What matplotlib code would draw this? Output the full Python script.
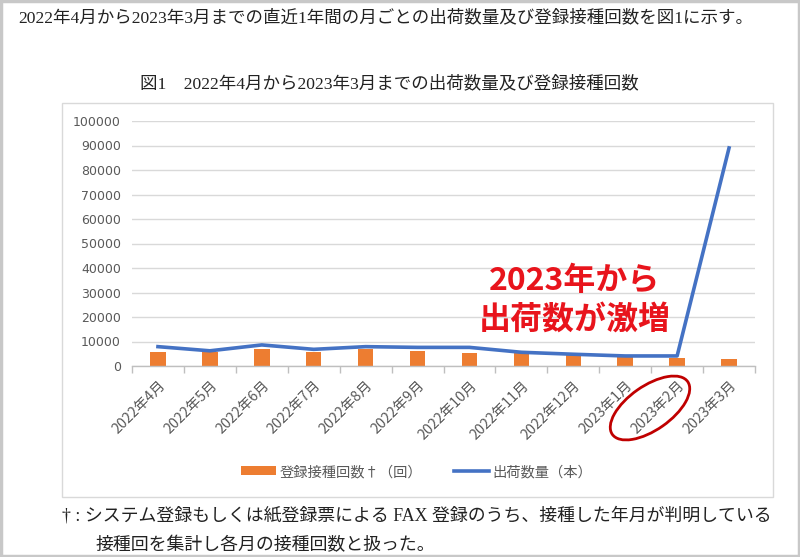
import matplotlib
matplotlib.use("Agg")
import matplotlib.pyplot as plt
from matplotlib.patches import Rectangle, Ellipse
import numpy as np

months = ["2022年4月", "2022年5月", "2022年6月", "2022年7月", "2022年8月", "2022年9月",
          "2022年10月", "2022年11月", "2022年12月", "2023年1月", "2023年2月", "2023年3月"]
vaccinations = [5600, 5600, 6800, 5900, 6800, 6000, 5500, 5400, 4500, 3800, 3100, 3000]
shipments = [7900, 6200, 8600, 6800, 7900, 7600, 7600, 5600, 4800, 4100, 4100, 89000]
yticks = list(range(0, 100001, 10000))

JP = ["Noto Sans CJK JP", "DejaVu Sans"]
SERIF = ["Liberation Serif", "Noto Sans CJK JP", "DejaVu Sans"]
plt.rcParams["font.family"] = JP

W, H = 800, 557
fig = plt.figure(figsize=(8, 5.57), dpi=100)
fig.patch.set_facecolor("white")

def fx(px):
    return px / W

def fy(py):
    return 1 - py / H

# outer border and chart box
fig.patches.append(Rectangle((0.001, 0.001), 0.998, 0.998, transform=fig.transFigure,
                             fill=False, edgecolor="#c8c8c8", linewidth=2.5))
fig.patches.append(Rectangle((fx(62), fy(497)), fx(773) - fx(62), fy(103) - fy(497),
                             transform=fig.transFigure, fill=False,
                             edgecolor="#d9d9d9", linewidth=1))

ax = fig.add_axes([fx(132), fy(366), fx(755) - fx(132), fy(121) - fy(366)])
x = np.arange(len(months))
bars = ax.bar(x, vaccinations, width=0.3, color="#ed7d31", zorder=2, label="登録接種回数†（回）")
line, = ax.plot(x, shipments, color="#4472c4", linewidth=2.6, zorder=3, label="出荷数量（本）",
                solid_joinstyle="round")

ax.set_xlim(-0.5, len(months) - 0.5)
ax.set_ylim(0, 100000)
ax.set_yticks(yticks)
ax.set_yticklabels([str(v) for v in yticks], fontsize=9, color="#595959",
                   family=["DejaVu Sans"])
ax.yaxis.grid(True, color="#d9d9d9", linewidth=1, zorder=0)
ax.set_axisbelow(True)
ax.tick_params(axis="y", length=0, pad=8)

ax.set_xticks(x)
ax.set_xticklabels(months, rotation=45, ha="right", rotation_mode="anchor",
                   fontsize=10.3, color="#595959")
ax.tick_params(axis="x", length=0, pad=9)
ax.set_xticks(np.arange(-0.5, len(months), 1), minor=True)
ax.tick_params(axis="x", which="minor", length=5, color="#bfbfbf", width=1)

for s in ["top", "right", "left"]:
    ax.spines[s].set_visible(False)
ax.spines["bottom"].set_color("#bfbfbf")
ax.spines["bottom"].set_linewidth(1)

# legend
fig.legend([bars, line], ["登録接種回数†（回）", "出荷数量（本）"], loc="center",
           bbox_to_anchor=(fx(417), fy(472)), ncol=2,
           frameon=False, fontsize=10.3, handlelength=2.4, handleheight=0.6,
           columnspacing=2.2, handletextpad=0.3, labelcolor="#595959")

# texts
fig.text(fx(18), fy(18), "2022年4月から2023年3月までの直近1年間の月ごとの出荷数量及び登録接種回数を図1に示す。",
         fontsize=12.6, family=SERIF, va="center", ha="left", color="#222222")
fig.text(fx(389), fy(84), "図1　2022年4月から2023年3月までの出荷数量及び登録接種回数",
         fontsize=12.6, family=SERIF, va="center", ha="center", color="#222222")
fig.text(fx(62), fy(516), "† : システム登録もしくは紙登録票による FAX 登録のうち、接種した年月が判明している",
         fontsize=12.9, family=SERIF, va="center", ha="left", color="#222222")
fig.text(fx(96), fy(546), "接種回を集計し各月の接種回数と扱った。",
         fontsize=12.9, family=SERIF, va="center", ha="left", color="#222222")

# annotation
fig.text(fx(575), fy(281), "2023年から", fontsize=23, fontweight="bold", color="#e8141c",
         ha="center", va="center", family=JP)
fig.text(fx(575), fy(320), "出荷数が激増", fontsize=23, fontweight="bold", color="#e8141c",
         ha="center", va="center", family=JP)

# ellipse around 2023年2月 label (drawn in pixel space)
ell = Ellipse((650, H - 408), 92, 44, angle=35, fill=False, edgecolor="#c00000",
              linewidth=2, transform=None)
fig.patches.append(ell)

fig.savefig("out.png", dpi=100, facecolor="white")
